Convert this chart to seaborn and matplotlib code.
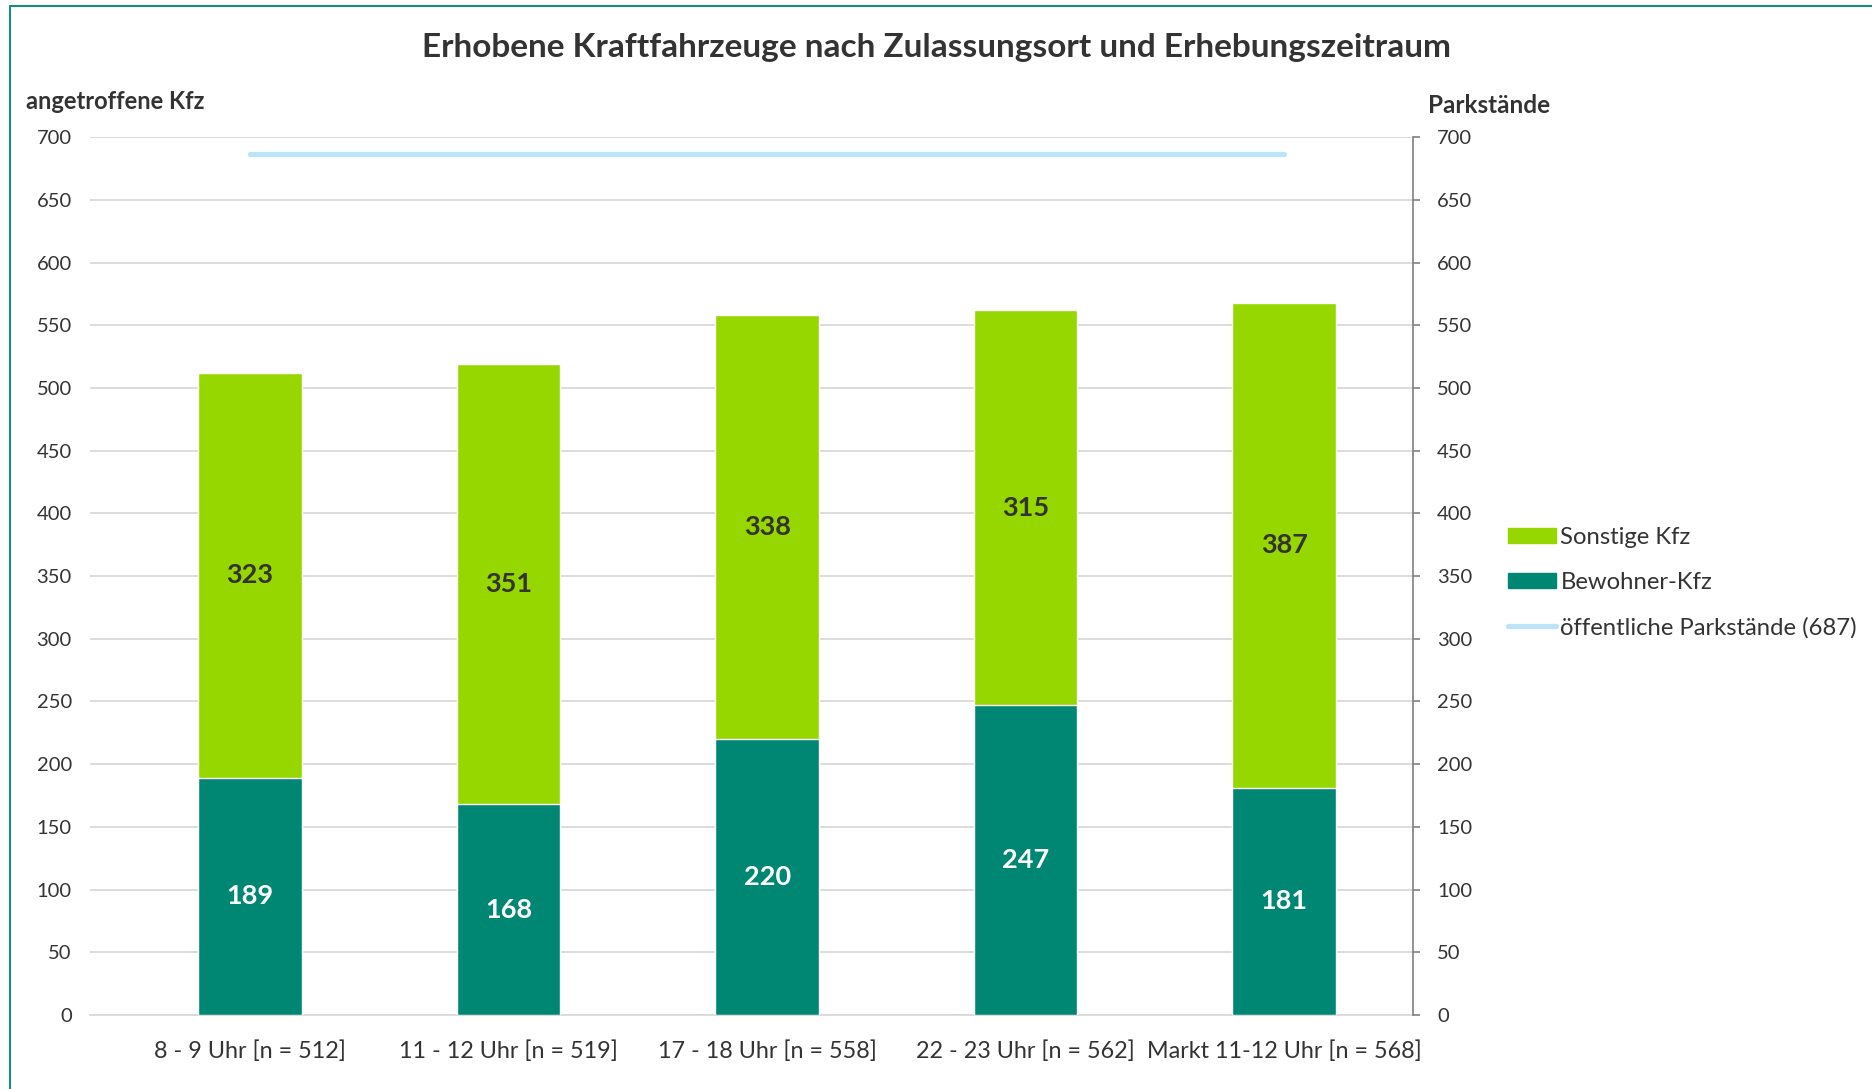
import pandas as pd
import matplotlib.pyplot as plt
import matplotlib.lines as mlines
import matplotlib.patches as mpatches
import seaborn as sns

# Daten
zeitraum = ['8 - 9 Uhr [n = 512]', '11 - 12 Uhr [n = 519]', '17 - 18 Uhr [n = 558]',
            '22 - 23 Uhr [n = 562]', 'Markt 11-12 Uhr [n = 568]']
bewohner = [189, 168, 220, 247, 181]
sonstige = [323, 351, 338, 315, 387]
parkstaende = 687

df = pd.DataFrame({'zeitraum': zeitraum, 'bewohner': bewohner, 'sonstige': sonstige})
df['gesamt'] = df['bewohner'] + df['sonstige']

c_sonst = '#97D700'
c_bew = '#008774'
c_line = '#BDE3F9'
c_text = '#333333'

sns.set_style('white')
plt.rcParams['font.family'] = ['Lato', 'DejaVu Sans']

fig = plt.figure(figsize=(18.72, 10.89), dpi=100)
ax = fig.add_axes([0.048, 0.068, 0.707, 0.806])

# gestapelte Balken: gesamt hinten, Bewohner davor
sns.barplot(data=df, x='zeitraum', y='gesamt', color=c_sonst, width=0.4,
            saturation=1, ax=ax, zorder=2)
sns.barplot(data=df, x='zeitraum', y='bewohner', color=c_bew, width=0.4,
            saturation=1, ax=ax, zorder=3)

for i, row in df.iterrows():
    ax.text(i, row['bewohner'] / 2, str(row['bewohner']), ha='center', va='center',
            fontsize=19.5, fontweight='bold', color='white', zorder=5)
    ax.text(i, row['bewohner'] + row['sonstige'] / 2, str(row['sonstige']),
            ha='center', va='center', fontsize=19.5, fontweight='bold', color=c_text, zorder=5)

ax.set_ylim(0, 700)
ax.set_xlim(-0.62, 4.5)
ax.set_yticks(range(0, 701, 50))
ax.yaxis.grid(True, color='#D9D9D9', linewidth=1.3, zorder=0)
ax.set_axisbelow(True)
ax.set_xlabel('')
ax.set_ylabel('')
for s in ['top', 'right', 'left']:
    ax.spines[s].set_visible(False)
ax.spines['bottom'].set_color('#D9D9D9')
ax.spines['bottom'].set_linewidth(1.3)
ax.tick_params(axis='y', length=0, pad=13, labelsize=14.5, labelcolor=c_text)
ax.tick_params(axis='x', length=0, pad=18, labelsize=16.8, labelcolor=c_text)

# rechte Achse: Parkstände
ax2 = ax.twinx()
line_df = pd.DataFrame({'x': range(len(zeitraum)), 'y': [parkstaende] * len(zeitraum)})
sns.lineplot(data=line_df, x='x', y='y', color=c_line, linewidth=3.8, ax=ax2,
             solid_capstyle='round')
ax2.set_ylim(0, 700)
ax2.set_xlim(-0.62, 4.5)
ax2.set_yticks(range(0, 701, 50))
ax2.set_ylabel('')
ax2.set_xlabel('')
for s in ['top', 'left', 'bottom']:
    ax2.spines[s].set_visible(False)
ax2.spines['right'].set_color('#808080')
ax2.spines['right'].set_linewidth(1.2)
ax2.tick_params(axis='y', direction='out', length=5, width=1.2, color='#808080',
                pad=12, labelsize=14.5, labelcolor=c_text)

# Titel und Achsentitel
fig.text(0.5, 0.956, 'Erhobene Kraftfahrzeuge nach Zulassungsort und Erhebungszeitraum',
         ha='center', va='center', fontsize=24, fontweight='bold', color=c_text)
fig.text(0.0139, 0.907, 'angetroffene Kfz', ha='left', va='center', fontsize=17,
         fontweight='bold', color=c_text)
fig.text(0.763, 0.903, 'Parkstände', ha='left', va='center', fontsize=17.5,
         fontweight='bold', color=c_text)

# Legende
handles = [mpatches.Patch(color=c_sonst, label='Sonstige Kfz'),
           mpatches.Patch(color=c_bew, label='Bewohner-Kfz'),
           mlines.Line2D([], [], color=c_line, linewidth=3.8, solid_capstyle='round',
                         label='öffentliche Parkstände (687)')]
leg = fig.legend(handles=handles, loc='center left', bbox_to_anchor=(0.794, 0.465),
                 frameon=False, fontsize=17.2, handlelength=2.0, handleheight=0.6,
                 handletextpad=0.2, labelspacing=1.0)
for t in leg.get_texts():
    t.set_color(c_text)

# Rahmen links und oben
fig.add_artist(mlines.Line2D([0.0056, 0.0056], [0, 0.9945], color='#1A8A7A', linewidth=1.5))
fig.add_artist(mlines.Line2D([0.0056, 1], [0.9945, 0.9945], color='#1A8A7A', linewidth=1.5))

fig.savefig('out.png', dpi=100)
